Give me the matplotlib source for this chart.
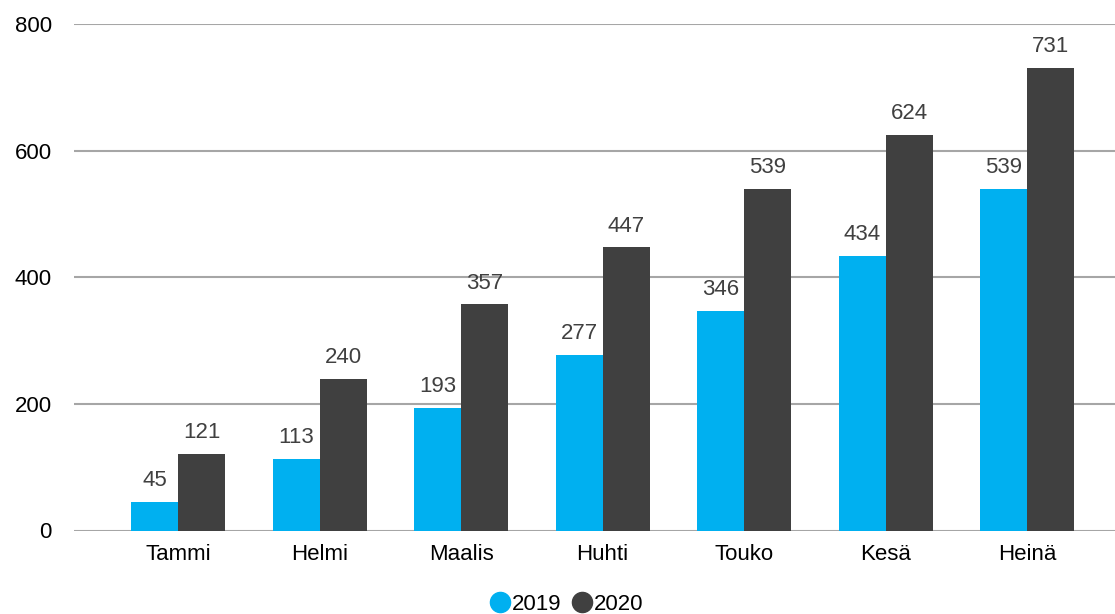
import matplotlib
matplotlib.use("Agg")
import matplotlib.pyplot as plt
from matplotlib.lines import Line2D
import numpy as np

plt.rcParams['font.family'] = ['Liberation Sans', 'DejaVu Sans']

categories = ["Tammi", "Helmi", "Maalis", "Huhti", "Touko", "Kesä", "Heinä"]
series_names = ["2019", "2020"]
values_2019 = [45, 113, 193, 277, 346, 434, 539]
values_2020 = [121, 240, 357, 447, 539, 624, 731]
yticks = [0, 200, 400, 600, 800]

c2019 = "#00B0F0"
c2020 = "#404040"
fs = 16

W, H = 1115, 614
fig = plt.figure(figsize=(W / 100, H / 100), dpi=100)
left, right, top, bottom = 74, 1115, 24, 530.5
ax = fig.add_axes([left / W, 1 - bottom / H, (right - left) / W, (bottom - top) / H])

x = np.arange(len(categories))
bw = 0.332
b1 = ax.bar(x - bw / 2, values_2019, bw, color=c2019, zorder=3)
b2 = ax.bar(x + bw / 2, values_2020, bw, color=c2020, zorder=3)

for bars, vals in ((b1, values_2019), (b2, values_2020)):
    for rect, v in zip(bars, vals):
        ax.annotate(str(v), (rect.get_x() + rect.get_width() / 2, v),
                    xytext=(0, 11.5), textcoords="offset points",
                    ha="center", va="baseline", fontsize=fs, color="#404040")

ax.set_xlim(-0.735, 6.62)
ax.set_ylim(0, 800)
ax.set_yticks(yticks)
ax.set_yticklabels([str(t) for t in yticks])
ax.set_xticks(x)
ax.set_xticklabels(categories)
ax.tick_params(axis="both", length=0, labelsize=fs, colors="black")
ax.tick_params(axis="y", pad=16)
ax.tick_params(axis="x", pad=9.5)
ax.grid(axis="y", color="#A6A6A6", linewidth=1.5, zorder=0)
for s in ax.spines.values():
    s.set_visible(False)

handles = [Line2D([], [], marker="o", linestyle="none", markersize=14.5,
                  markerfacecolor=c, markeredgecolor=c) for c in (c2019, c2020)]
fig.legend(handles, series_names, loc="center", bbox_to_anchor=(566 / W, 1 - 604 / H),
           ncol=2, frameon=False, fontsize=fs, handletextpad=0.05,
           columnspacing=0.4, handlelength=1.0, borderpad=0)

fig.savefig("out.png", dpi=100)
